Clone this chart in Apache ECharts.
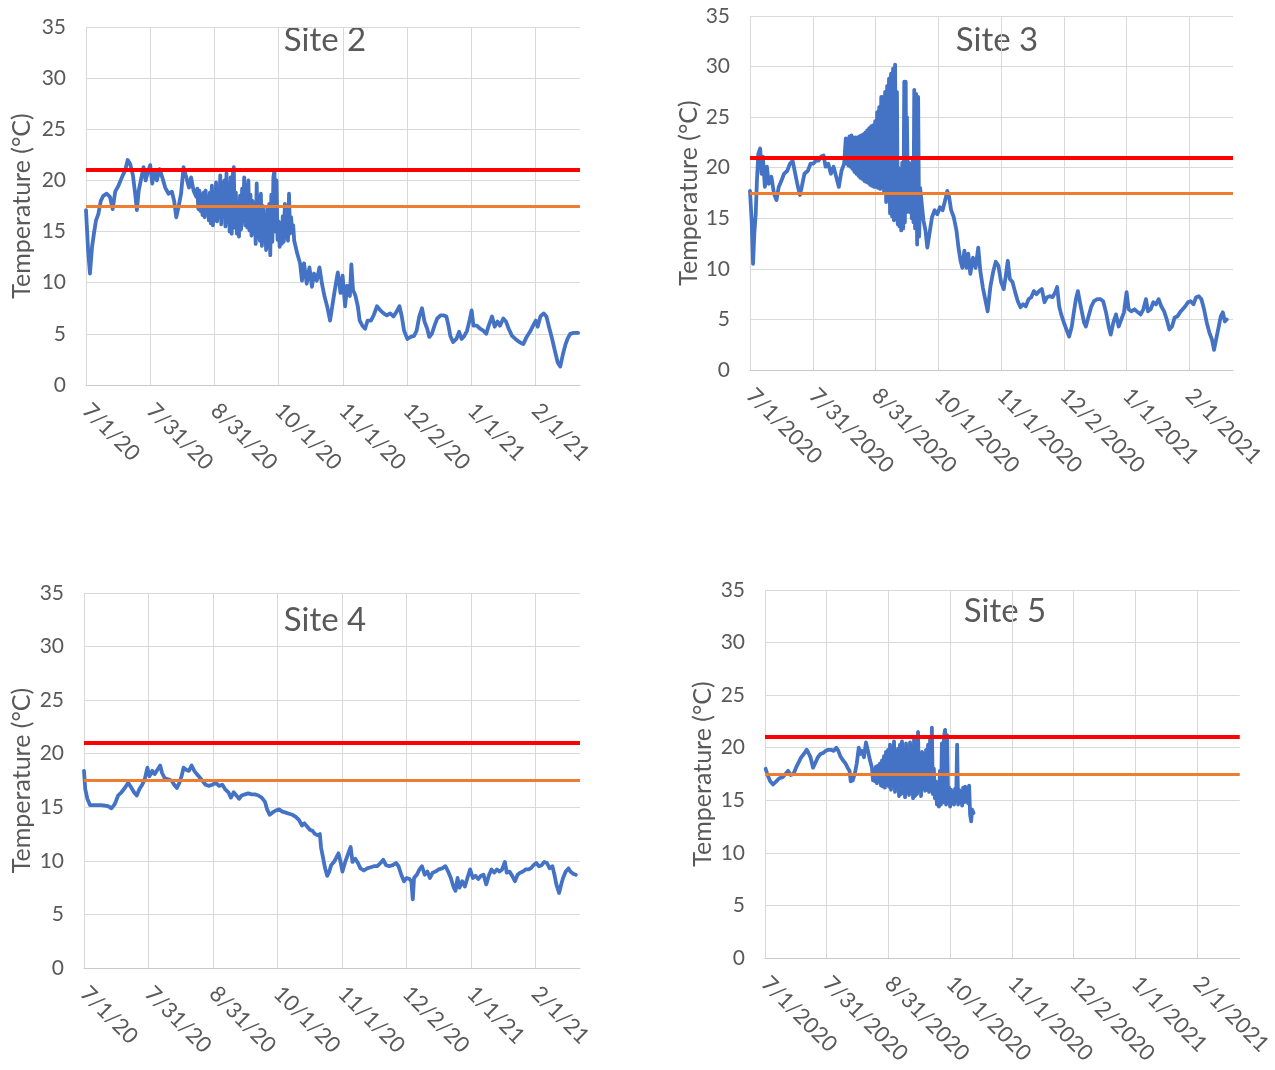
<!DOCTYPE html>
<html>
<head>
<meta charset="utf-8">
<script src="https://cdn.jsdelivr.net/npm/echarts@6/dist/echarts.min.js"></script>
<style>
html,body{margin:0;padding:0;background:#fff;}
#chart{width:1275px;height:1070px;}
</style>
</head>
<body>
<div id="chart"></div>
<script>
// ---------- data (days since 7/1/2020, temperature °C) ----------
const siteNames = ['Site 2', 'Site 3', 'Site 4', 'Site 5'];
const tickLabelsShort = ['7/1/20','7/31/20','8/31/20','10/1/20','11/1/20','12/2/20','1/1/21','2/1/21'];
const tickLabelsLong = ['7/1/2020','7/31/2020','8/31/2020','10/1/2020','11/1/2020','12/2/2020','1/1/2021','2/1/2021'];
const thresholdValues = [21, 17.5]; // red, orange

// Site 2: [day, temperature]
const site2 = [
[0,17.1],[1,13.2],[1.9,10.9],[2.9,13.5],[3.8,14.8],[4.8,16.1],[5.9,16.7],[7.1,18.0],[8.3,18.5],[9.9,18.7],
[11.5,18.4],[12.8,17.2],[14,18.9],[15.6,19.5],[17.2,20.3],[18.8,21.0],[20,22.0],[21.2,21.6],[22.5,20.5],[23.6,18.7],
[24.4,17.1],[25.3,19.0],[26.3,20.0],[27.6,21.3],[28.6,20.0],[29.5,20.7],[30.8,21.5],[31.8,19.7],[32.7,21.0],[34,20.0],
[35.3,21.1],[36.6,20.3],[38,19.3],[39.6,18.7],[41.2,18.9],[42.3,18.0],[43.3,16.4],[44.4,17.4],[45.6,18.7],[46.8,21.3],
[48.1,20.3],[49.4,19.3],[50.4,20.3],[51.6,19.0],
[52.9,18.4],[53.4,19.2],[53.9,17.2],[54.4,19.0],[54.9,17.0],[55.4,18.6],[55.9,16.6],[56.4,18.8],[56.9,16.4],[57.4,19.0],
[57.9,16.8],[58.4,18.2],[58.9,16.1],[59.4,18.8],[59.9,15.8],[60.4,19.5],[60.9,15.6],[61.4,18.4],[61.9,16.1],[62.4,19.8],
[62.9,16.0],[63.4,19.3],[63.9,16.4],[64.4,20.5],[64.9,15.7],[65.4,19.7],[65.9,16.7],[66.4,20.0],[66.9,15.5],[67.4,20.7],
[67.9,15.9],[68.4,19.5],[68.9,15.0],[69.4,20.3],[69.9,14.8],[70.4,20.5],[70.9,21.3],[71.4,15.4],[71.9,18.8],[72.4,14.8],
[72.9,17.7],[73.4,14.5],[73.9,18.5],[74.4,15.2],[74.9,19.2],[75.4,16.0],[75.9,20.3],[76.4,15.6],[76.9,19.5],[77.4,15.4],
[77.9,20.0],[78.4,15.1],[78.9,18.6],[79.4,14.6],[79.9,18.0],[80.4,15.2],[80.9,17.4],[81.4,13.8],[81.9,19.7],[82.4,14.4],
[82.9,18.4],[83.4,14.1],[83.9,18.7],[84.4,13.6],[84.9,17.5],[85.4,14.2],[85.9,16.4],[86.4,13.2],[86.9,17.2],[87.4,13.5],
[87.9,17.7],[88.4,12.7],[88.9,18.6],[89.4,14.0],[89.9,20.3],[90.4,21.0],[90.9,15.0],[91.4,20.0],[91.9,14.2],[92.4,16.0],
[92.9,13.5],[93.4,15.8],[93.9,13.8],[94.4,16.5],[94.9,14.0],[95.4,17.7],[95.9,14.4],[96.4,16.8],[96.9,14.1],[97.4,18.7],
[97.9,14.8],[98.4,16.4],[98.9,15.1],[99.4,15.6],[99.9,14.1],
[101.4,12.8],[102.7,11.9],[103.6,10.2],[104.6,11.9],[105.9,9.9],[107.2,11.5],[108.4,9.6],[109.4,10.9],[110.7,10.2],[112,11.5],
[113.2,9.9],[114.5,8.6],[115.8,7.6],[117.1,6.3],[118.6,8.3],[119.7,9.7],[120.8,11.0],[122.1,9.0],[123.1,10.7],[124.3,7.7],
[125.3,9.7],[126.6,8.7],[127.3,11.8],[128.1,9.3],[129.3,8.7],[130.4,7.7],[131.3,6.3],[132.6,5.8],[133.9,5.5],[135.1,6.3],
[136.7,6.3],[138,6.8],[139.6,7.7],[141.2,7.3],[142.8,7.0],[144.3,6.8],[145.9,7.0],[147.5,6.7],[149.1,7.2],[150.4,7.7],
[151.5,6.7],[152.6,5.3],[154.2,4.5],[155.8,4.7],[157.4,4.8],[158.6,5.3],[159.9,6.7],[161.2,7.5],[162.4,6.2],[163.7,5.5],
[164.7,4.7],[165.9,5.0],[167.2,5.8],[168.5,6.5],[170.1,6.8],[171.7,6.8],[172.9,6.7],[173.9,5.8],[174.8,4.8],[176.1,4.2],
[177.7,4.5],[179,5.2],[180.2,4.5],[181.5,4.8],[182.8,5.3],[184,6.3],[185,7.3],[185.9,5.8],[187.5,5.8],[189.1,5.5],
[190.7,5.3],[192,5.0],[193.2,5.8],[194.8,6.7],[196.1,5.7],[197.4,6.2],[198.6,5.8],[200.2,6.5],[201.5,6.2],[202.8,5.5],
[204.4,4.8],[206,4.5],[207.9,4.2],[209.8,4.0],[211.4,4.7],[213,5.2],[214.5,5.8],[215.8,6.3],[216.7,5.7],[218,6.7],
[219.6,7.0],[220.9,6.7],[222.1,5.7],[223.4,4.7],[225,3.3],[226.3,2.2],[227.5,1.8],[228.8,3.0],[230.1,4.0],[231,4.5],
[232.3,5.0],[234,5.1],[236.1,5.1]
];

const site3Days = [0,0.8,1.5,2.1,2.8,3.4,4.1,5,5.7,6.3,7.3,8.3,9.2,10.5,11.8,13,14.1,15.4,16.7,18.3,19.6,20.9,21.9,23.2,24.5,25.4,26.7,28.4,29.7,31,32.3,33.6,34.9,36.1,37.1,38.4,39.7,41,42.3,43.6,44.9,46.2,47.0,47.4,47.8,48.3,48.8,49.3,49.8,50.2,50.7,51.2,51.7,52.2,52.7,53.2,53.7,54.1,54.6,55.1,55.6,56.1,56.6,57.0,57.5,58.0,58.5,59.0,59.5,60.0,60.5,60.9,61.4,61.9,62.4,62.9,63.4,63.9,64.4,64.8,65.3,65.8,66.3,66.8,67.3,67.7,68.2,68.7,69.2,69.7,70.2,70.6,71.2,71.6,72.1,72.5,72.8,73.3,73.8,74.2,74.7,75.2,75.7,76.0,76.4,76.7,77.0,77.5,78.0,78.4,78.9,79.4,79.9,80.2,80.6,81.0,81.5,82.0,82.5,83.0,83.5,84.3,85.1,86.1,87.0,88.0,89.3,90.6,91.9,93.2,94.5,95.8,96.8,97.7,98.7,100.0,101.3,102.3,103.3,104.2,105.2,106.2,107.1,108.1,109.4,110.7,112.0,113.0,114.3,115.6,116.6,118.0,119.3,120.6,121.9,123.2,124.5,125.5,126.5,127.5,128.8,130.1,131.4,132.7,134.0,135.3,136.7,138.0,139.3,140.6,141.9,143.2,144.5,145.8,147.1,148.5,149.8,150.7,151.7,152.7,154.0,155.3,156.6,157.9,158.9,159.9,160.9,161.9,162.9,163.9,164.8,166.1,167.5,168.8,170.4,172.0,173.3,174.7,176.0,177.0,178.3,179.6,180.9,182.2,183.5,184.8,185.8,187.1,188.7,190.4,191.7,193.0,194.3,195.3,196.6,197.9,199.2,200.5,201.8,203.2,204.5,205.8,207.1,208.4,209.7,211.0,212.3,213.6,214.9,216.2,217.6,218.9,220.2,221.5,222.8,224.1,225.4,226.7,227.7,228.7,230.0,231.0,232.0,233.0,233.9];
const site3Temps = [17.7,14.8,10.5,13.4,15.4,18.7,21.4,21.9,19.4,21.1,18.1,20.1,18.4,19.1,17.4,16.8,18.1,18.7,19.4,19.7,20.4,20.7,19.7,18.4,17.3,18.1,19.4,19.7,20.4,20.4,20.7,20.7,21.1,21.2,20.1,20.4,19.4,20.1,19.1,18.1,19.7,20.4,22.9,20.4,22.8,20.2,23.1,20.1,23.2,19.9,23.0,19.6,23.0,19.4,23.0,19.2,23.1,19.0,23.2,18.9,23.3,18.7,23.5,18.6,23.7,18.5,23.9,18.3,24.1,18.2,24.2,18.1,24.6,18.1,25.5,18.0,26.0,17.9,27.0,18.0,27.0,17.5,27.5,16.6,28.1,16.8,28.8,15.5,29.3,15.2,29.8,14.8,30.2,14.9,27.5,14.4,20.0,14.2,19.6,13.8,20.5,14.0,28.5,14.6,28.5,15.6,25.0,16.0,20.5,15.6,20.0,15.0,20.8,14.6,27.7,14.0,27.3,12.4,27.0,13.2,18.0,16.4,14.8,13.8,12.1,13.4,15.1,15.8,15.4,16.1,15.8,16.8,17.7,17.1,15.8,15.1,13.8,12.1,10.8,10.1,11.8,10.1,11.5,9.5,11.1,10.1,12.1,9.8,8.1,6.8,5.8,8.3,9.7,10.7,10.3,8.7,8.0,9.3,10.8,9.0,8.7,7.7,6.8,6.2,6.5,6.3,7.0,7.2,7.8,7.5,7.8,8.0,6.7,7.2,7.3,7.2,7.7,8.2,6.3,5.5,4.7,4.0,3.3,4.3,5.7,7.0,7.8,6.7,5.7,4.7,4.3,5.3,6.3,6.8,7.0,7.0,6.8,5.7,4.3,3.5,4.7,5.5,4.3,5.0,5.7,7.7,6.0,5.8,6.0,5.7,5.5,6.0,7.0,5.8,6.0,6.7,6.5,7.0,6.3,5.8,5.0,4.0,4.3,5.2,5.3,5.7,6.0,6.3,6.7,6.8,6.5,7.2,7.3,7.0,6.0,4.7,3.7,3.0,2.0,3.0,4.3,5.3,5.7,4.8,5.0];

const site4Days = [0,0.6,1.6,2.9,5.1,8.3,11.5,13.1,14.7,16.3,17.9,19.5,21.1,22.7,23.9,25.2,26.5,27.8,29,30.3,31.3,32.6,33.8,35.1,36.4,37.3,38.6,40.2,41.8,43.1,44.4,45.6,46.6,47.6,48.8,50.1,51.4,52.7,53.9,55.2,56.5,58.1,59.7,61.3,62.9,64.5,66.1,67.4,69,70.2,71.5,72.8,74.1,75.3,76.9,78.5,80.1,81.7,83.3,84.9,86.5,87.5,88.7,90,91.6,93.2,94.8,96.4,98,99.6,101.2,102.8,104.1,105.3,106.6,107.9,109.2,110.4,111.7,112.7,113.3,114.3,115.2,116.2,117.2,118.1,119.4,120.3,121.6,122.6,123.5,124.8,126.1,127.4,128.3,129.6,130.9,132.1,133.7,135.3,137,138.5,140.1,141.7,143,144.3,145.9,147.5,149.1,150.3,151.6,152.9,154.2,155.5,156.4,157.1,157.7,159,160.3,161.5,162.8,164.1,165.3,166.6,167.9,169.5,171.1,172.7,174,175.3,176.5,177.5,178.5,179.4,180.7,182,183.2,184.5,185.8,187.1,188.4,189.6,190.9,192.2,193.4,194.7,196,197.3,198.5,199.8,201.1,202,203.3,204.6,205.9,207.2,208.4,209.7,211,212.3,213.5,214.8,216.1,217.4,218.7,219.9,221.2,222.5,223.8,224.8,225.7,227,228,228.9,230.2,231.5,232.4,233.7,235];
const site4Temps = [18.4,16.7,15.8,15.2,15.2,15.2,15.1,14.9,15.3,16.1,16.4,16.8,17.3,16.8,16.4,16.1,16.7,17.1,17.6,18.7,17.9,18.4,18.1,18.5,18.9,18.2,17.7,17.6,17.5,17.1,16.8,17.3,17.9,18.7,18.5,18.4,18.9,18.4,18.1,17.8,17.5,17.1,17.0,17.1,17.3,17.0,17.1,16.7,16.4,15.9,16.4,16.1,15.8,16.1,16.2,16.3,16.2,16.2,16.1,15.9,15.5,14.8,14.3,14.5,14.7,14.8,14.6,14.5,14.4,14.3,14.1,13.8,13.3,13.5,13.2,12.9,12.8,12.5,12.4,12.5,11.2,10.2,9.3,8.6,9.0,9.6,9.9,10.2,10.7,9.9,9.0,9.9,10.6,11.3,9.9,10.2,9.8,9.3,9.1,9.3,9.4,9.5,9.5,9.8,10.1,9.6,9.5,9.6,9.8,9.5,8.7,8.1,8.4,8.3,8.1,6.4,8.4,8.7,9.2,9.5,8.7,9.0,8.4,8.9,9.0,9.2,9.3,9.5,9.0,8.4,7.6,7.2,8.4,7.5,8.1,7.6,8.4,9.2,8.4,8.6,8.3,8.6,8.7,7.8,8.6,9.2,8.9,9.2,9.0,9.2,9.9,8.9,9.0,8.6,8.1,8.7,8.9,9.0,9.2,9.2,9.3,9.6,9.8,9.5,9.6,9.9,9.8,9.3,9.5,8.7,7.8,7.0,7.8,8.4,9.0,9.3,9.0,8.8,8.7];

// Site 5: [day, temperature]
const site5 = [
[0.3,18.0],[1.3,17.4],[2.6,16.8],[4,16.5],[5.6,16.8],[7.2,17.1],[8.9,17.2],[10.2,17.5],[11.5,17.8],[12.8,17.4],
[14.2,17.5],[15.5,18.1],[16.8,18.6],[18.1,19.1],[19.4,19.4],[20.8,19.8],[21.7,19.5],[22.7,19.1],[24,18.1],[25,18.5],
[26.4,19.1],[27.7,19.4],[29,19.5],[30.3,19.7],[31.6,19.8],[32.9,19.8],[34.3,19.7],[35.6,20.0],[36.6,19.7],[37.6,19.2],
[38.9,18.8],[40.2,18.5],[41.2,18.1],[42.2,17.8],[42.8,16.8],[43.8,16.9],[44.8,17.5],[45.8,18.5],[46.8,20.0],[47.4,19.4],
[48.4,19.7],[49.4,19.1],[50.4,20.5],[51.4,19.7],[52.4,18.8],
[53.4,18.1],[53.9,16.9],[54.4,17.9],[54.9,16.8],[55.4,18.2],[55.9,16.6],[56.4,18.3],[56.9,16.9],[57.4,18.5],[57.9,16.4],
[58.4,18.8],[58.9,16.3],[59.4,19.2],[59.9,16.2],[60.4,19.6],[60.9,16.5],[61.4,19.8],[61.9,16.3],[62.4,20.3],[62.9,16.0],
[63.4,19.4],[63.9,16.6],[64.4,20.6],[64.9,15.8],[65.4,19.6],[65.9,16.1],[66.4,19.9],[66.9,15.4],[67.4,20.3],[67.9,15.6],
[68.4,20.6],[68.9,15.7],[69.4,19.6],[69.9,15.3],[70.4,20.4],[70.9,15.8],[71.4,18.8],[71.9,15.5],[72.4,20.5],[72.9,16.0],
[73.4,19.9],[73.9,15.2],[74.4,20.8],[74.9,15.4],[75.4,18.9],[75.9,15.6],[76.4,21.5],[76.9,16.0],[77.4,19.0],[77.9,15.4],
[78.4,19.6],[78.9,16.2],[79.4,19.4],[79.9,15.9],[80.4,19.8],[80.9,16.0],[81.4,20.3],[81.9,15.8],[82.4,20.8],[82.9,16.5],
[83.3,21.9],[83.8,15.6],[84.3,18.0],[84.8,15.2],[85.3,16.8],[85.8,14.6],[86.3,16.0],[86.8,14.4],[87.3,17.8],[87.8,14.6],
[88.3,20.4],[88.8,14.8],[89.3,21.0],[89.9,21.7],[90.4,14.6],[90.9,21.2],[91.4,15.0],[91.9,16.2],[92.4,14.4],[92.9,16.0],
[93.4,14.7],[93.9,15.8],[94.4,14.6],[94.9,16.1],[95.4,14.9],[95.9,20.3],[96.4,14.6],[96.9,16.0],[97.4,14.8],[97.9,15.8],
[98.4,14.5],[98.9,16.2],[99.4,14.8],[99.9,16.3],[100.4,14.9],[100.9,16.2],[101.4,14.7],[101.9,16.4],[102.4,13.6],[102.9,13.0],
[103.4,14.1],[104.1,13.8]
];

// ---------- chart ----------
const FONT = 'Lato, "Open Sans", "Noto Sans", sans-serif';
const TEXT = '#595959';
const GRID = '#D9D9D9';
const tickStep = 30.8;
const xMax = 237;

const grids = [
  {left: 86, top: 27, width: 494, height: 358},
  {left: 750, top: 16, width: 483, height: 354},
  {left: 84, top: 593, width: 496, height: 375},
  {left: 765, top: 590, width: 477, height: 368}
];
const nameGaps = [52, 45, 50, 50];
const titlePos = [[325, 40], [997, 40], [325, 620], [1005, 611]];
const labelSets = [tickLabelsShort, tickLabelsLong, tickLabelsShort, tickLabelsLong];
const seriesData = [
  site2,
  site3Days.map((d, j) => [d, site3Temps[j]]),
  site4Days.map((d, j) => [d, site4Temps[j]]),
  site5
];

const xAxes = grids.map((g, i) => ({
  type: 'value', gridIndex: i, min: 0, max: xMax, interval: tickStep,
  axisLine: {show: true, lineStyle: {color: '#C9C9C9', width: 1}},
  axisTick: {show: false},
  splitLine: {show: true, showMaxLine: false, lineStyle: {color: GRID, width: 1}},
  axisLabel: {
    rotate: -45, margin: 22, color: TEXT, fontFamily: FONT, fontSize: 22,
    showMaxLabel: false,
    formatter: function (v) {
      const k = Math.round(v / tickStep);
      if (Math.abs(v - k * tickStep) > 0.01) return '';
      return labelSets[i][k] || '';
    }
  }
}));

const yAxes = grids.map((g, i) => ({
  type: 'value', gridIndex: i, min: 0, max: 35, interval: 5,
  axisLine: {show: false}, axisTick: {show: false},
  splitLine: {show: true, lineStyle: {color: GRID, width: 1}},
  axisLabel: {margin: 20, color: TEXT, fontFamily: FONT, fontSize: 21},
  name: 'Temperature (°C)', nameLocation: 'middle', nameGap: nameGaps[i],
  nameTextStyle: {color: TEXT, fontFamily: FONT, fontSize: 25}
}));

const series = seriesData.map((data, i) => ({
  type: 'line', xAxisIndex: i, yAxisIndex: i,
  data: data,
  showSymbol: false, symbol: 'none',
  lineStyle: {color: '#4472C4', width: 3.8, join: 'round', cap: 'round'},
  itemStyle: {color: '#4472C4'},
  animation: false,
  markLine: {
    silent: true, symbol: 'none', animation: false,
    label: {show: false},
    data: [
      {yAxis: thresholdValues[1], lineStyle: {color: '#ED7D31', width: 3, type: 'solid'}},
      {yAxis: thresholdValues[0], lineStyle: {color: '#FF0000', width: 4, type: 'solid'}}
    ]
  }
}));

const graphics = siteNames.map((s, i) => ({
  type: 'text', x: titlePos[i][0], y: titlePos[i][1], silent: true,
  style: {text: s, fill: TEXT, font: '33px ' + FONT, align: 'center', verticalAlign: 'middle',
          textAlign: 'center', textVerticalAlign: 'middle'}
}));

const chart = echarts.init(document.getElementById('chart'), null, {renderer: 'canvas'});
chart.setOption({
  animation: false,
  backgroundColor: '#ffffff',
  grid: grids,
  xAxis: xAxes,
  yAxis: yAxes,
  series: series,
  graphic: graphics
});
</script>
</body>
</html>
